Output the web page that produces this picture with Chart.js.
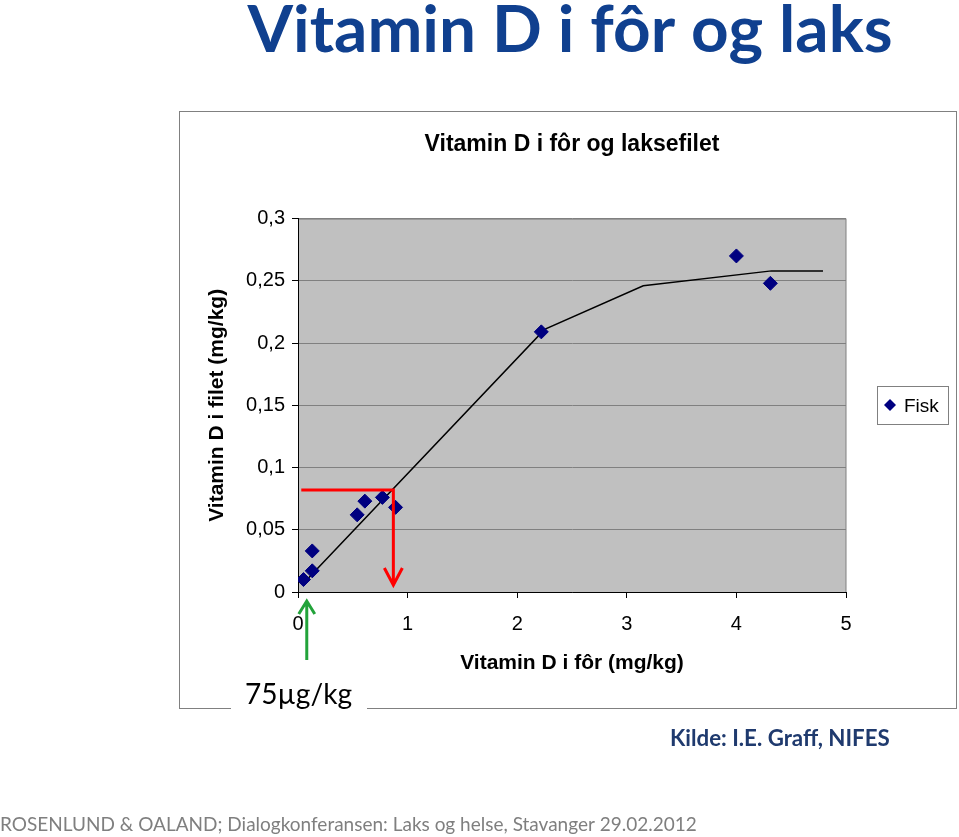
<!DOCTYPE html>
<html lang="no">
<head>
<meta charset="UTF-8">
<title>Vitamin D i fôr og laks</title>
<script src="https://cdn.jsdelivr.net/npm/chart.js"></script>
<style>
  body { margin: 0; background: #fff; }
  #wrap { position: relative; width: 959px; height: 837px; }
</style>
</head>
<body>
<div id="wrap"><canvas id="vitChart" width="959" height="837"></canvas></div>
<script>
// Fisk: vitamin D i fôr (x) og i filet (y), mg/kg
const fiskFor   = [0.05, 0.13, 0.13, 0.54, 0.61, 0.77, 0.89, 2.22, 4.00, 4.31];
const fiskFilet = [0.010, 0.017, 0.033, 0.062, 0.073, 0.076, 0.068, 0.209, 0.270, 0.248];
// trendlinje
const linjeFor   = [0.05, 2.25, 3.15, 4.32, 4.79];
const linjeFilet = [0.007, 0.211, 0.246, 0.258, 0.258];
const xTicks = ['0', '1', '2', '3', '4', '5'];
const yTicks = ['0', '0,05', '0,1', '0,15', '0,2', '0,25', '0,3'];
// markeringer: rød pil ved ca 0,87 mg/kg fôr -> 0,082 mg/kg filet, grønn pil ved 75 µg/kg
const rodFor = 0.87, rodFilet = 0.082;
const gronnFor = 0.08;

const arial = 'Liberation Sans, Arial, sans-serif';
const calibri = 'Lato, Open Sans, sans-serif';

// tegner tekst med skriftstørrelse tilpasset ønsket bredde
function fitText(ctx, txt, weight, family, width, x, y, align) {
  ctx.font = weight + ' 60px ' + family;
  const size = 60 * width / ctx.measureText(txt).width;
  ctx.font = weight + ' ' + size.toFixed(1) + 'px ' + family;
  ctx.textAlign = align;
  ctx.fillText(txt, x, y);
}

const deco = {
  id: 'deco',
  beforeDraw(chart) {
    const { ctx, chartArea: a } = chart;
    ctx.save();
    ctx.fillStyle = '#fff';
    ctx.fillRect(0, 0, chart.width, chart.height);
    ctx.strokeStyle = '#808080';
    ctx.lineWidth = 1;
    ctx.strokeRect(179.5, 111.5, 777, 597);
    ctx.fillStyle = '#C0C0C0';
    ctx.fillRect(a.left, a.top, a.right - a.left, a.bottom - a.top);
    ctx.strokeRect(a.left + 0.5, a.top + 0.5, a.right - a.left - 0.5, a.bottom - a.top);
    ctx.restore();
  },
  afterDraw(chart) {
    const { ctx, scales: { x, y } } = chart;
    ctx.save();
    ctx.lineCap = 'butt';

    // rød linje og pil
    const rx = x.getPixelForValue(rodFor), ry = y.getPixelForValue(rodFilet);
    const tip = y.getPixelForValue(0) - 7;
    ctx.strokeStyle = '#FF0000';
    ctx.lineWidth = 3;
    ctx.beginPath();
    ctx.moveTo(x.getPixelForValue(0.03), ry);
    ctx.lineTo(rx, ry);
    ctx.lineTo(rx, tip);
    ctx.moveTo(rx - 9, tip - 17);
    ctx.lineTo(rx, tip);
    ctx.lineTo(rx + 9, tip - 17);
    ctx.stroke();

    // grønn pil
    const gx = x.getPixelForValue(gronnFor);
    const gTip = y.getPixelForValue(0) + 9;
    ctx.strokeStyle = '#22A33A';
    ctx.beginPath();
    ctx.moveTo(gx, 660);
    ctx.lineTo(gx, gTip);
    ctx.moveTo(gx - 8, gTip + 13);
    ctx.lineTo(gx, gTip);
    ctx.lineTo(gx + 8, gTip + 13);
    ctx.stroke();

    // 75µg/kg
    ctx.fillStyle = '#fff';
    ctx.fillRect(231, 678, 136, 34);
    ctx.fillStyle = '#000';
    ctx.textBaseline = 'alphabetic';
    fitText(ctx, '75µg/kg', 'normal', calibri, 107, 245, 704, 'left');

    // forklaring
    ctx.strokeStyle = '#808080';
    ctx.lineWidth = 1;
    ctx.fillStyle = '#fff';
    ctx.fillRect(877.5, 386.5, 71, 38);
    ctx.strokeRect(877.5, 386.5, 71, 38);
    ctx.fillStyle = '#000080';
    ctx.beginPath();
    ctx.moveTo(890, 399); ctx.lineTo(896, 405); ctx.lineTo(890, 411); ctx.lineTo(884, 405);
    ctx.closePath();
    ctx.fill();
    ctx.fillStyle = '#000';
    ctx.font = '19px ' + arial;
    ctx.textAlign = 'left';
    ctx.fillText('Fisk', 904, 412);

    // overskrift og kilder
    ctx.fillStyle = '#10408F';
    fitText(ctx, 'Vitamin D i fôr og laks', 'bold', calibri, 645, 570, 52, 'center');
    ctx.fillStyle = '#1F3A6E';
    fitText(ctx, 'Kilde: I.E. Graff, NIFES', 'bold', calibri, 220, 670, 746, 'left');
    ctx.fillStyle = '#7F7F7F';
    fitText(ctx, 'ROSENLUND & OALAND; Dialogkonferansen: Laks og helse, Stavanger 29.02.2012', 'normal', calibri, 698, 0, 831, 'left');
    ctx.restore();
  }
};

const tickFont = { family: arial, size: 20 };
const titleFont = { family: arial, size: 21, weight: 'bold' };

new Chart(document.getElementById('vitChart').getContext('2d'), {
  type: 'scatter',
  data: {
    datasets: [
      {
        label: 'Fisk',
        data: fiskFor.map((v, i) => ({ x: v, y: fiskFilet[i] })),
        pointStyle: 'rectRot',
        pointRadius: 7,
        pointHoverRadius: 7,
        backgroundColor: '#000080',
        borderColor: '#000080',
        borderWidth: 1
      },
      {
        label: 'Trend',
        type: 'line',
        data: linjeFor.map((v, i) => ({ x: v, y: linjeFilet[i] })),
        showLine: true,
        borderColor: '#000',
        borderWidth: 1.5,
        pointRadius: 0,
        fill: false,
        tension: 0
      }
    ]
  },
  options: {
    responsive: false,
    animation: false,
    layout: { padding: { left: 201, right: 113, top: 111, bottom: 157 } },
    plugins: {
      legend: { display: false },
      tooltip: { enabled: false },
      title: {
        display: true,
        fullSize: false,
        text: 'Vitamin D i fôr og laksefilet',
        color: '#000',
        font: { family: arial, size: 23, weight: 'bold' },
        padding: { top: 20, bottom: 60 }
      }
    },
    scales: {
      x: {
        type: 'linear',
        min: 0,
        max: 5,
        ticks: { stepSize: 1, callback: (v, i) => xTicks[i], font: tickFont, color: '#000', padding: 14, maxRotation: 0 },
        grid: { drawOnChartArea: false, tickLength: 6, tickColor: '#000' },
        border: { color: '#000' },
        title: { display: true, text: 'Vitamin D i fôr (mg/kg)', font: titleFont, color: '#000', padding: { top: 4, bottom: 4 } },
        afterFit: s => { s.height = 88; }
      },
      y: {
        min: 0,
        max: 0.3,
        ticks: { stepSize: 0.05, callback: (v, i) => yTicks[i], font: tickFont, color: '#000', padding: 7 },
        grid: { color: '#808080', tickLength: 6, tickColor: '#000' },
        border: { color: '#000' },
        title: { display: true, text: 'Vitamin D i filet (mg/kg)', font: titleFont, color: '#000', padding: { top: 4, bottom: 4 } },
        afterFit: s => { s.width = 97; }
      }
    }
  },
  plugins: [deco]
});
</script>
</body>
</html>
